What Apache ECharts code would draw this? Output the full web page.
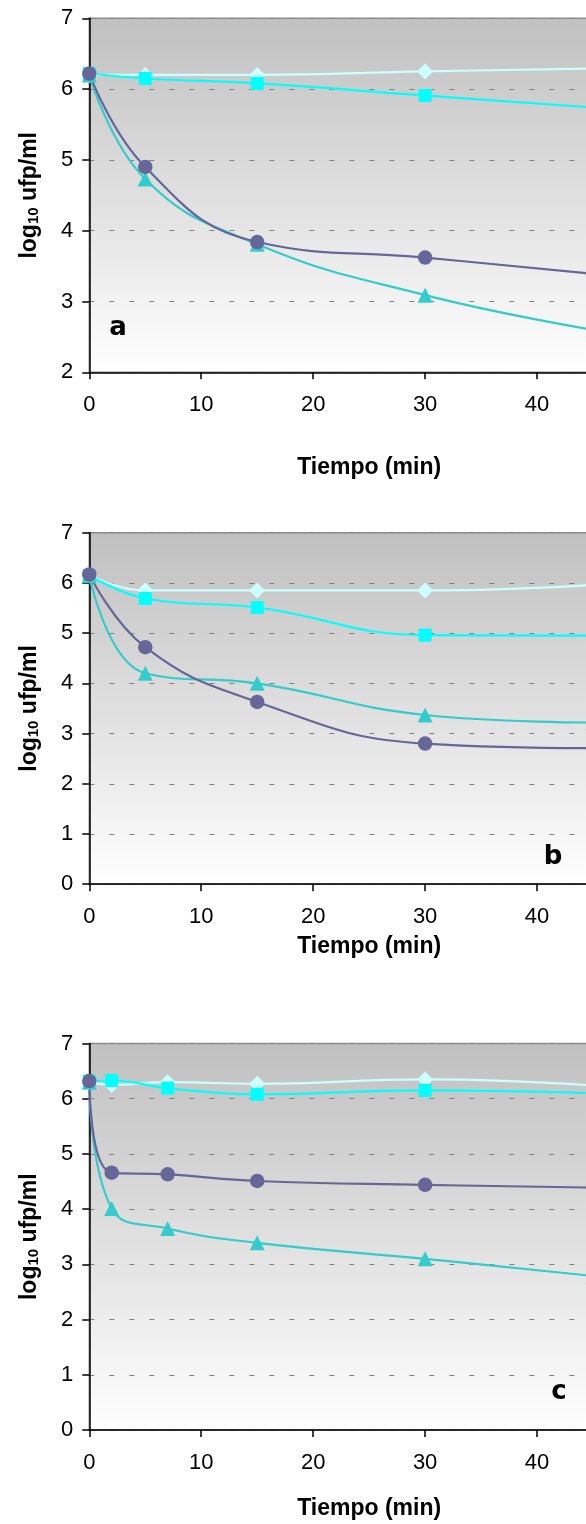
<!DOCTYPE html>
<html>
<head>
<meta charset="utf-8">
<script src="https://cdn.jsdelivr.net/npm/echarts@6/dist/echarts.min.js"></script>
<style>
html,body{margin:0;padding:0;background:#fff;}
#c{width:586px;height:1524px;}
</style>
</head>
<body>
<div id="c"></div>
<script>
// ---- data ----
const timesAB = [0, 5, 15, 30, 45];
const timesC = [0, 2, 7, 15, 30, 45];
const xTicks = [0, 10, 20, 30, 40, 50];
const panelLetters = ['a', 'b', 'c'];

const aDiamond = [6.2, 6.2, 6.2, 6.25, 6.29];
const aSquare = [6.22, 6.15, 6.08, 5.91, 5.74];
const aTriangle = [6.2, 4.73, 3.81, 3.09, 2.6];
const aCircle = [6.22, 4.90, 3.84, 3.62, 3.39];

const bDiamond = [6.15, 5.85, 5.85, 5.85, 5.96];
const bSquare = [6.15, 5.69, 5.51, 4.96, 4.95];
const bTriangle = [6.15, 4.2, 4.0, 3.37, 3.22];
const bCircle = [6.17, 4.72, 3.63, 2.8, 2.71];

const cDiamond = [6.3, 6.25, 6.3, 6.27, 6.35, 6.24];
const cSquare = [6.32, 6.33, 6.19, 6.08, 6.15, 6.1];
const cTriangle = [6.3, 4.01, 3.65, 3.39, 3.1, 2.79];
const cCircle = [6.32, 4.66, 4.63, 4.51, 4.44, 4.39];

// ---- build ----
const FONT = "'Liberation Sans', Arial, sans-serif";
const panels = [
  {times: timesAB, d: aDiamond, s: aSquare, t: aTriangle, c: aCircle, ymin: 2},
  {times: timesAB, d: bDiamond, s: bSquare, t: bTriangle, c: bCircle, ymin: 0},
  {times: timesC, d: cDiamond, s: cSquare, t: cTriangle, c: cCircle, ymin: 0}
];
const gridPos = [
  {top: 18.3, height: 354, nameGap: 84},
  {top: 532.7, height: 351.5, nameGap: 51},
  {top: 1043.5, height: 386.5, nameGap: 67}
];
const letterPos = [[118, 328], [553, 857], [559, 1392]];

const styles = [
  {key: 'd', symbol: 'diamond', size: 16, color: '#ccffff'},
  {key: 's', symbol: 'rect', size: 13, color: '#00ffff'},
  {key: 't', symbol: 'triangle', size: 15, color: '#33cccc'},
  {key: 'c', symbol: 'circle', size: 14.5, color: '#666699'}
];

const bg = {type: 'linear', x: 0, y: 0, x2: 0, y2: 1,
  colorStops: [{offset: 0, color: '#c0c0c0'}, {offset: 1, color: '#ffffff'}]};

const grid = [], xAxis = [], yAxis = [], series = [], graphic = [];
panels.forEach((p, i) => {
  const g = gridPos[i];
  grid.push({left: 89.3, right: -63, top: g.top, height: g.height, show: true,
    containLabel: false, outerBoundsMode: 'none',
    backgroundColor: bg, borderColor: '#8c8c8c', borderWidth: 1.5});
  xAxis.push({type: 'value', gridIndex: i, min: xTicks[0], max: xTicks[xTicks.length - 1], interval: 10,
    axisLine: {show: true, onZero: false, lineStyle: {color: '#000', width: 1.5}},
    axisTick: {show: true, length: 7, lineStyle: {color: '#000', width: 1.5}},
    axisLabel: {fontSize: 22, color: '#000', fontFamily: FONT, margin: 22, hideOverlap: false},
    splitLine: {show: false},
    name: 'Tiempo (min)', nameLocation: 'middle', nameGap: g.nameGap,
    nameTextStyle: {fontSize: 23, fontWeight: 'bold', color: '#000', fontFamily: FONT}});
  yAxis.push({type: 'value', gridIndex: i, min: p.ymin, max: 7, interval: 1,
    axisLine: {show: true, onZero: false, lineStyle: {color: '#000', width: 1.5}},
    axisTick: {show: true, length: 7, lineStyle: {color: '#000', width: 1.5}},
    axisLabel: {fontSize: 22, color: '#000', fontFamily: FONT, margin: 16},
    splitLine: {show: true, lineStyle: {color: '#808080', width: 1, type: [5, 15]}},
    name: 'log{sub|10} ufp/ml', nameLocation: 'middle', nameRotate: 90, nameGap: 48,
    nameTextStyle: {fontSize: 23, fontWeight: 'bold', color: '#000', fontFamily: FONT,
      rich: {sub: {fontSize: 15, fontWeight: 'bold', color: '#000', fontFamily: FONT, verticalAlign: 'bottom'}}}});
  styles.forEach(st => {
    series.push({type: 'line', xAxisIndex: i, yAxisIndex: i, smooth: 0.45,
      symbol: st.symbol, symbolSize: st.size, showAllSymbol: true,
      data: p.times.map((t, k) => [t, p[st.key][k]]),
      lineStyle: {color: st.color, width: 2.2},
      itemStyle: {color: st.color, borderWidth: 0},
      emphasis: {disabled: true}, animation: false});
  });
  graphic.push({type: 'text', x: letterPos[i][0], y: letterPos[i][1], z: 100,
    style: {text: panelLetters[i], font: "bold 26px 'DejaVu Sans', Verdana, sans-serif",
      fill: '#000', textAlign: 'center', textVerticalAlign: 'middle'}});
});

const chart = echarts.init(document.getElementById('c'), null, {renderer: 'canvas', width: 586, height: 1524});
chart.setOption({animation: false, backgroundColor: '#ffffff', grid, xAxis, yAxis, series, graphic});
</script>
</body>
</html>
